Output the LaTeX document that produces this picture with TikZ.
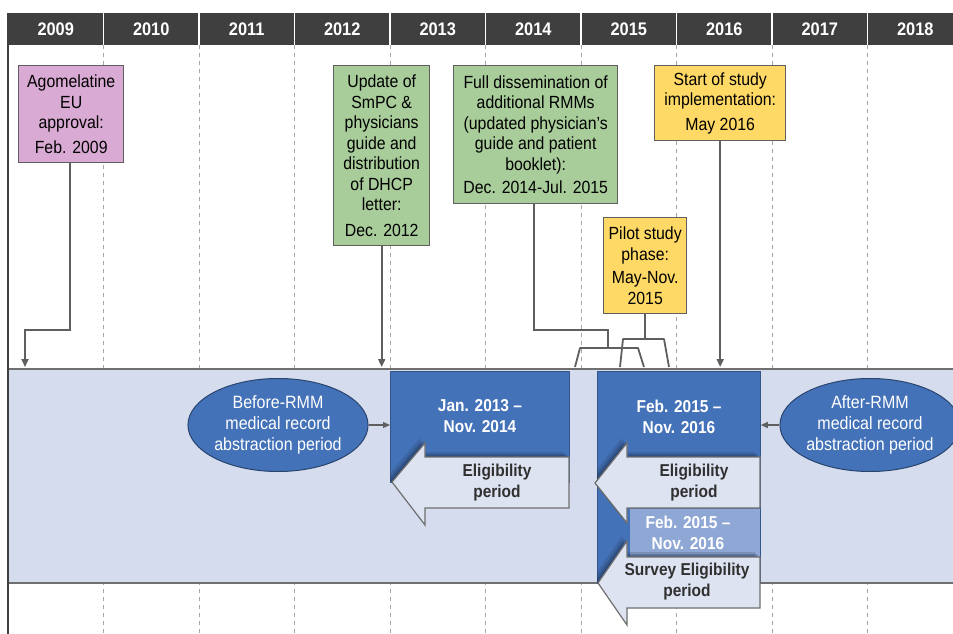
\documentclass[tikz,border=0pt]{standalone}
\usepackage{fontspec}
\setmainfont{Liberation Sans}[FakeStretch=0.9]
\usetikzlibrary{arrows.meta,shapes.geometric}
\definecolor{hdr}{HTML}{3F3F3F}
\definecolor{gridc}{HTML}{A6A6A6}
\definecolor{bandc}{HTML}{D5DCED}
\definecolor{bandline}{HTML}{6F6F6F}
\definecolor{pinkf}{HTML}{D9AAD3}
\definecolor{greenf}{HTML}{A8CC9A}
\definecolor{yellowf}{HTML}{FFD966}
\definecolor{boxline}{HTML}{5F5F5F}
\definecolor{blued}{HTML}{4472B8}
\definecolor{bluel}{HTML}{8EA7D5}
\definecolor{arrowf}{HTML}{DEE3F1}
\definecolor{txtd}{HTML}{303030}
\definecolor{shadc}{HTML}{1A2A48}
\newcommand\evfont{\fontsize{17.6}{20.5}\selectfont}
\newcommand\bdfont{\bfseries\fontsize{17.2}{21}\selectfont}
\tikzset{
  evbox/.style={draw=boxline, line width=1.4pt, inner sep=0pt, align=center, anchor=north west, font=\evfont, text=black},
  conn/.style={draw=boxline, line width=1.8pt},
  tipconn/.style={conn, -{Triangle[length=8pt,width=7pt]}},
  thinconn/.style={draw=boxline, line width=1.2pt, -{Triangle[length=7pt,width=6pt]}},
  gridline/.style={draw=gridc, line width=0.8pt, dash pattern=on 4pt off 4pt},
  yearlbl/.style={text=white, font=\bfseries\fontsize{18.2}{19}\selectfont, inner sep=0pt},
  bluetxt/.style={text=white, font=\bdfont, align=center, inner sep=0pt},
  darktxt/.style={text=txtd, font=\bdfont, align=center, inner sep=0pt},
  rmmell/.style={ellipse, draw=blued!60!black, line width=1pt, fill=blued, text=white, font=\fontsize{17.8}{21}\selectfont, align=center, minimum width=169pt, minimum height=93pt, inner sep=0pt},
  lightarrow/.style={fill=arrowf, draw=boxline!90, line width=1.2pt},
  shadA/.style={fill=shadc, opacity=0.18, shift={(-5,-5)}},
  shadB/.style={fill=shadc, opacity=0.25, shift={(-3,-3)}},
  shadC/.style={fill=shadc, opacity=0.3, shift={(-1.5,-1.5)}},
}
\newcommand\arrA{(569,457) -- (425,457) -- (425,443) -- (392,482) -- (425,525) -- (425,508) -- (569,508) -- cycle}
\newcommand\arrB{(760,457) -- (627,457) -- (627,443) -- (595,483) -- (627,523) -- (627,508) -- (760,508) -- cycle}
\newcommand\arrC{(760,557) -- (627,557) -- (627,541) -- (598,583) -- (627,625) -- (627,608) -- (760,608) -- cycle}
\begin{document}
\begin{tikzpicture}[x=1pt,y=-1pt]
\useasboundingbox (0,0) rectangle (953,634);
\clip (0,0) rectangle (953,634);
\fill[white] (0,0) rectangle (953,634);
% grid lines
\foreach \k in {1,...,9} {
  \draw[gridline] ({8+95.5*\k},45) -- ({8+95.5*\k},634);
}
% band
\fill[bandc] (8,369) rectangle (953,583);
\draw[bandline, line width=1.3pt] (8,369) -- (953,369);
\draw[bandline, line width=1.3pt] (8,583) -- (953,583);
% left border
\draw[hdr, line width=1.5pt] (8,13) -- (8,634);
% header
\fill[hdr] (8,13) rectangle (953,45);
\foreach \k in {1,...,9} {
  \draw[white, line width=1.6pt] ({8+95.5*\k},13) -- ({8+95.5*\k},45);
}
\foreach \k in {0,...,9} {
  \pgfmathtruncatemacro\yr{2009+\k}
  \node[yearlbl] (y\yr) at ({8+95.5*(\k+0.5)},29.5) {\yr};
}
% blue period 1
\node[fill=blued, draw=blued!75!black, line width=0.8pt, anchor=north west, minimum width=179pt, minimum height=111pt, inner sep=0pt] (blue1) at (390,371) {};
\begin{scope}
  \clip (390,371) rectangle (569,482);
  \fill[shadA] \arrA; \fill[shadB] \arrA; \fill[shadC] \arrA;
\end{scope}
\path[lightarrow] \arrA;
\node[bluetxt] (d1) at (480,416.5) {Jan. 2013 –\\Nov. 2014};
\node[darktxt] (e1) at (497,483) {Eligibility\\period};
% blue period 2
\node[fill=blued, draw=blued!75!black, line width=0.8pt, anchor=north west, minimum width=163pt, minimum height=212pt, inner sep=0pt] (blue2) at (597,371) {};
\begin{scope}
  \clip (597,371) rectangle (760,583);
  \fill[shadA] \arrB; \fill[shadB] \arrB; \fill[shadC] \arrB;
\end{scope}
\path[lightarrow] \arrB;
\node[fill=bluel, anchor=north west, minimum width=130pt, minimum height=48pt, inner sep=0pt] (blue3) at (630,509) {};
\begin{scope}
  \clip (597,371) rectangle (760,583);
  \fill[shadA] \arrC; \fill[shadB] \arrC; \fill[shadC] \arrC;
\end{scope}
\path[lightarrow] \arrC;
\node[bluetxt] (d2) at (679,416.5) {Feb. 2015 –\\Nov. 2016};
\node[darktxt] (e2) at (694,483) {Eligibility\\period};
\node[bluetxt] (d3) at (688,532.5) {Feb. 2015 –\\Nov. 2016};
\node[darktxt] (e3) at (687,582) {Survey Eligibility\\period};
% ellipses
\node[rmmell] (before) at (278,425) {Before-RMM\\medical record\\abstraction period};
\node[rmmell] (after) at (870,425) {After-RMM\\medical record\\abstraction period};
\draw[thinconn] (before.east) -- (before.east -| blue1.west);
\draw[thinconn] (after.west) -- (after.west -| blue2.east);
% event boxes
\node[evbox, fill=pinkf, minimum width=105pt, minimum height=97pt] (pink) at (18,65) {Agomelatine\\EU\\approval:\\[4pt]Feb. 2009};
\node[evbox, fill=greenf, minimum width=96pt, minimum height=180pt] (green1) at (333,65) {Update of\\SmPC \&\\physicians\\guide and\\distribution\\of DHCP\\letter:\\[5pt]Dec. 2012};
\node[evbox, fill=greenf, minimum width=164pt, minimum height=138pt] (green2) at (453,65) {Full dissemination of\\additional RMMs\\(updated physician’s\\guide and patient\\booklet):\\[3pt]Dec. 2014-Jul. 2015};
\node[evbox, fill=yellowf, minimum width=131pt, minimum height=75pt] (start) at (654,65) {Start of study\\implementation:\\[4pt]May 2016};
\node[evbox, fill=yellowf, minimum width=83pt, minimum height=96pt] (pilot) at (603,217) {Pilot study\\phase:\\[3pt]May-Nov.\\2015};
% connectors
\coordinate (pkc) at (25,330);
\coordinate (pkend) at (25,367);
\draw[tipconn] ([xshift=-1.5pt]pink.south) |- (pkc) -- (pkend);
\coordinate (g1end) at (381,367);
\draw[tipconn] (green1.south) -- (green1.south |- g1end);
\coordinate (stend) at (720,367);
\draw[tipconn] (start.south) -- (start.south |- stend);
\coordinate (g2c) at (608,330);
\coordinate (g2m) at (608,348);
\draw[conn] ([xshift=-2pt]green2.south) |- (g2c) -- (g2m);
\coordinate (b1l) at (575,367);
\coordinate (b1a) at (580,348);
\coordinate (b1b) at (638,348);
\coordinate (b1r) at (644,367);
\draw[conn, line join=round] (b1l) -- (b1a) -- (b1b) -- (b1r);
\coordinate (pm) at (645,339);
\draw[conn] (pilot.south) -- (pilot.south |- pm);
\coordinate (b2l) at (620,367);
\coordinate (b2a) at (623,339);
\coordinate (b2b) at (664,339);
\coordinate (b2r) at (669,367);
\draw[conn, line join=round] (b2l) -- (b2a) -- (b2b) -- (b2r);
\end{tikzpicture}
\end{document}
